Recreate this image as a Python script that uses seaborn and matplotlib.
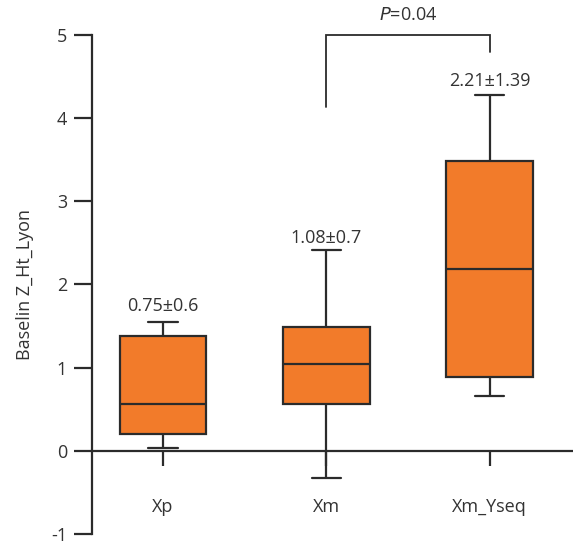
import numpy as np
import pandas as pd
import matplotlib
matplotlib.use("Agg")
import matplotlib.pyplot as plt
import seaborn as sns

categories = ["Xp", "Xm", "Xm_Yseq"]
# five-number summaries: min, q1, median, q3, max
xp_vals = [0.03, 0.20, 0.56, 1.38, 1.55]
xm_vals = [-0.33, 0.56, 1.04, 1.49, 2.42]
xmy_vals = [0.66, 0.89, 2.19, 3.48, 4.28]
labels_mean_sd = ["0.75\u00b10.6", "1.08\u00b10.7", "2.21\u00b11.39"]
label_y = [1.74, 2.56, 4.45]
p_text = "=0.04"
yticks = [-1, 0, 1, 2, 3, 4, 5]

df = pd.DataFrame({
    "group": np.repeat(categories, 5),
    "value": xp_vals + xm_vals + xmy_vals,
})

sns.set_style("white")
plt.rcParams["font.family"] = ["Open Sans", "DejaVu Sans"]
txt = "#333333"
edge = "#2b2b2b"
orange = "#F27B2A"
fs = 13

fig = plt.figure(figsize=(5.73, 5.45), dpi=100)
ax = fig.add_axes([0.1606, 0.0202, 0.8394, 0.9156])

sns.boxplot(data=df, x="group", y="value", order=categories, ax=ax,
            whis=(0, 100), width=0.53, color=orange, saturation=1,
            linewidth=1.6, linecolor=edge, showfliers=False,
            boxprops=dict(facecolor=orange, edgecolor=edge),
            capprops=dict(color=edge), whiskerprops=dict(color=edge),
            medianprops=dict(color=edge))

# narrower caps
cap_half = 0.09
for cont in ax.containers:
    for cap in getattr(cont, "caps", []):
        xd = np.asarray(cap.get_xdata(), dtype=float)
        c = xd.mean()
        cap.set_xdata([c - cap_half, c + cap_half])

ax.set_xlim(-0.435, 2.51)
ax.set_ylim(-1, 5)
ax.set_yticks(yticks)
ax.set_yticklabels([str(t) for t in yticks])

for s in ["top", "right"]:
    ax.spines[s].set_visible(False)
ax.spines["bottom"].set_position(("data", 0))
ax.spines["bottom"].set_color(edge)
ax.spines["left"].set_color(edge)
ax.spines["bottom"].set_linewidth(1.6)
ax.spines["left"].set_linewidth(1.6)

ax.tick_params(axis="y", direction="out", length=13, width=1.6, color=edge,
               labelsize=fs, labelcolor=txt, pad=5, left=True)
ax.tick_params(axis="x", direction="out", length=11, width=1.6, color=edge,
               labelsize=fs, labelcolor=txt, pad=23, bottom=True)
ax.set_xlabel("")
ax.set_ylabel("Baselin Z_Ht_Lyon", fontsize=fs, color=txt, labelpad=12)

for i, (lab, yy) in enumerate(zip(labels_mean_sd, label_y)):
    ax.text(i, yy, lab, ha="center", va="center", fontsize=fs, color=txt)

# significance bracket
ax.plot([1, 1, 2, 2], [4.14, 5.0, 5.0, 4.79], color=edge, lw=1.3,
        clip_on=False, solid_joinstyle="miter")
ax.text(1.5, 5.24, "$\\it{P}$" + p_text, ha="center", va="center",
        fontsize=fs, color=txt, clip_on=False)

fig.savefig("out.png", dpi=100)
